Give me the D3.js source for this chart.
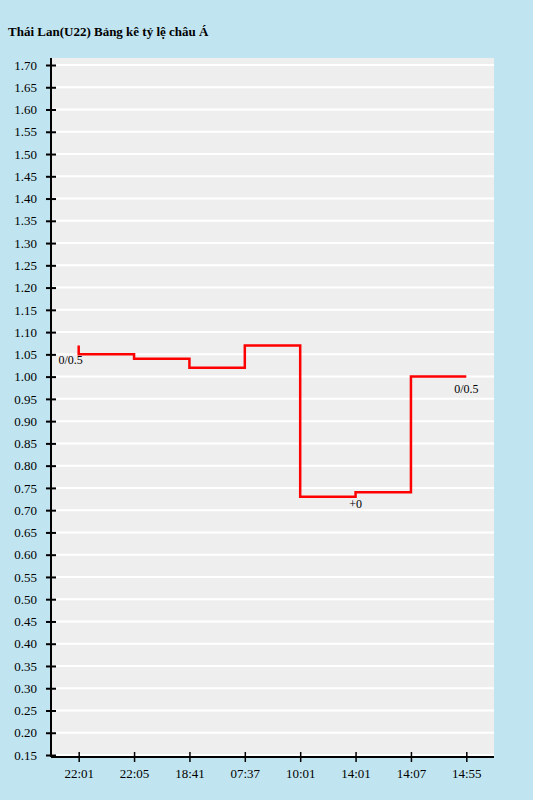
<!DOCTYPE html>
<html>
<head>
<meta charset="utf-8">
<script src="https://cdn.jsdelivr.net/npm/d3@7"></script>
<style>
  body { margin: 0; background: #c1e5f0; }
  svg { display: block; font-family: "Liberation Serif", "Times New Roman", serif; }
</style>
</head>
<body>
<svg id="chart" width="533" height="800"></svg>
<script>
// data
const times = ["22:01", "22:05", "18:41", "07:37", "10:01", "14:01", "14:07", "14:55"];
const odds = [1.05, 1.04, 1.02, 1.07, 0.73, 0.74, 1.00, 1.00];
const openOdds = 1.07; // little spike at the very start
const notes = [
  { i: 0, text: "0/0.5" },
  { i: 5, text: "+0" },
  { i: 7, text: "0/0.5" }
];
const yTicks = d3.range(15, 171, 5).map(v => v / 100);

const svg = d3.select("#chart");
const plotL = 51, plotR = 494, plotT = 58, plotB = 757;

svg.append("text")
  .attr("x", 8).attr("y", 36)
  .attr("font-size", "13px").attr("font-weight", "bold")
  .text("Thái Lan(U22) Bảng kê tỷ lệ châu Á");

svg.append("rect")
  .attr("x", plotL).attr("y", plotT)
  .attr("width", plotR - plotL).attr("height", plotB - plotT)
  .attr("fill", "#eeeeee");

const x = d3.scalePoint().domain(times).range([plotL, plotR]).padding(0.5);
const y = d3.scaleLinear().domain([0.15, 1.70]).range([755, 65]);

// grid
svg.append("g").selectAll("line").data(yTicks).join("line")
  .attr("x1", plotL).attr("x2", plotR)
  .attr("y1", d => y(d)).attr("y2", d => y(d))
  .attr("stroke", "#fff").attr("stroke-width", 2);

const yAxis = svg.append("g").attr("transform", `translate(${plotL},0)`)
  .call(d3.axisLeft(y).tickValues(yTicks).tickFormat(d3.format(".2f")).tickSize(5).tickSizeOuter(0));
yAxis.select(".domain").attr("d", `M0,${plotT}V${plotB}`).attr("stroke-width", 2);
yAxis.selectAll(".tick line").attr("x2", 5).attr("x1", -5).attr("stroke-width", 2);
yAxis.selectAll(".tick text").attr("x", -14).attr("font-size", "13px").attr("font-family", "Liberation Serif");

const xAxis = svg.append("g").attr("transform", `translate(0,${plotB})`)
  .call(d3.axisBottom(x).tickSize(0).tickSizeOuter(0));
xAxis.select(".domain").attr("d", `M${plotL},0H${plotR}`).attr("stroke-width", 2);
xAxis.selectAll(".tick line").attr("y1", -5).attr("y2", 5).attr("stroke-width", 1.5);
xAxis.selectAll(".tick text").attr("y", 12).attr("font-size", "13px").attr("font-family", "Liberation Serif");

const pts = [[x(times[0]), y(openOdds)]].concat(times.map((t, i) => [x(t), y(odds[i])]));
svg.append("path")
  .attr("d", d3.line().curve(d3.curveStepAfter)(pts))
  .attr("fill", "none").attr("stroke", "#ff0000").attr("stroke-width", 2.5);

svg.append("g").selectAll("text").data(notes).join("text")
  .attr("x", d => d.i === 0 ? x(times[d.i]) - 8 : x(times[d.i]))
  .attr("y", d => d.i === 0 ? y(odds[d.i]) + 10 : y(odds[d.i]) + 16)
  .attr("text-anchor", "middle")
  .attr("font-size", "12px")
  .text(d => d.text);
</script>
</body>
</html>
